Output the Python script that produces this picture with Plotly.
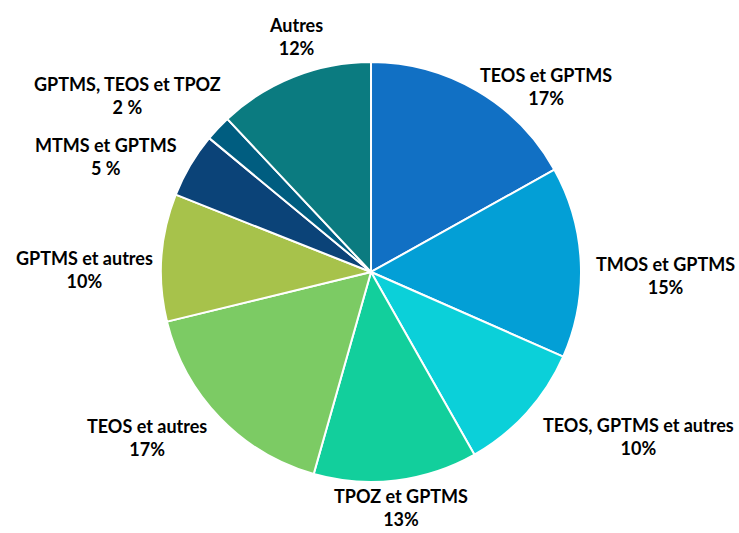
import plotly.graph_objects as go

categories = ["TEOS et GPTMS", "TMOS et GPTMS", "TEOS, GPTMS et autres", "TPOZ et GPTMS",
              "TEOS et autres", "GPTMS et autres", "MTMS et GPTMS", "GPTMS, TEOS et TPOZ", "Autres"]
values = [16.9, 14.7, 10.2, 12.6, 16.8, 9.8, 5.0, 2.0, 12.0]
pct_labels = ["17%", "15%", "10%", "13%", "17%", "10%", "5 %", "2 %", "12%"]
colors = ["#1170C4", "#039FD6", "#0BD0D9", "#12CF9C", "#7CCB64", "#A7C24B", "#0B4378", "#005D80", "#0B7B80"]

# data-label placement (pixel centres of each outside label block)
W, H = 739, 533
label_xy = [(546, 87), (665, 275), (638, 436), (401, 507), (147, 437),
            (84, 269), (106, 156), (127, 96), (296, 37)]

fig = go.Figure(go.Pie(
    labels=categories, values=values, textinfo="none",
    sort=False, direction="clockwise", rotation=0,
    marker=dict(colors=colors, line=dict(color="white", width=2)),
    automargin=False, showlegend=False, hoverinfo="label+value",
    domain=dict(x=[0.2179, 0.7862], y=[0.0957, 0.8837]),
))
for cat, pct, (px, py) in zip(categories, pct_labels, label_xy):
    fig.add_annotation(x=px / W, y=1 - py / H, xref="paper", yref="paper",
                       text=f"<b>{cat}<br>{pct}</b>", showarrow=False,
                       xanchor="center", yanchor="middle", align="center",
                       font=dict(family="Lato", size=18, color="black"))
fig.update_layout(width=W, height=H, margin=dict(l=0, r=0, t=0, b=0),
                  paper_bgcolor="white", plot_bgcolor="white")
fig.write_html("out.html", config={"displayModeBar": False},
               post_script="document.body.style.margin='0';")
